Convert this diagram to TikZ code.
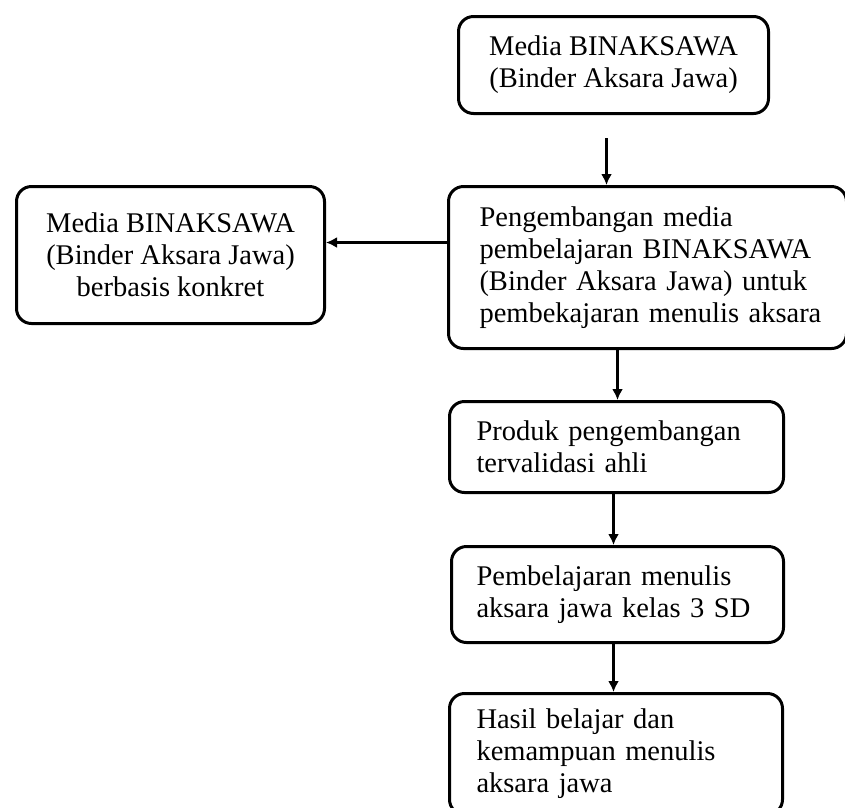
\documentclass[tikz,border=0pt]{standalone}
\usepackage{fontspec}
\setmainfont{Liberation Serif}
\usepackage{tikz}
\usetikzlibrary{arrows.meta,calc,positioning}
\tikzset{box/.style={draw, rectangle, rounded corners=15pt, line width=3pt, font=\fontsize{28.5}{32}\selectfont}}
\tikzstyle{bc}=[box, align=center, inner sep=0pt]
\tikzstyle{bl}=[box, align=left, inner ysep=0pt]

\begin{document}
\begin{tikzpicture}[x=1pt, y=-1pt, >={Latex[length=11pt,width=11pt]}, line width=2.6pt]
\useasboundingbox (0,0) rectangle (845,807);
\node[bc, minimum width=310pt, minimum height=97pt, anchor=north west] (A) at (457,15) {Media BINAKSAWA\\(Binder Aksara Jawa)};
\node[bl, inner xsep=31pt, text width=336pt, minimum height=162pt, anchor=north west] (B) at (447,185)
  {Pengembangan media\\pembelajaran BINAKSAWA\\(Binder Aksara Jawa) untuk\\\mbox{pembekajaran menulis aksara}};
\node[bc, minimum width=308pt, minimum height=137pt, anchor=north west] (C) at (15,185) {Media BINAKSAWA\\(Binder Aksara Jawa)\\berbasis konkret};
\node[bl, inner xsep=27pt, text width=280pt, minimum height=91pt][below=50pt of B.south west, anchor=north west, xshift=1pt] (D)
  {Produk pengembangan\\tervalidasi ahli};
\node[bl, inner xsep=25pt, text width=282pt, minimum height=96pt][below=51pt of D.south west, anchor=north west, xshift=2pt] (E)
  {Pembelajaran menulis\\aksara jawa kelas 3 SD};
\node[bl, inner xsep=27pt, text width=279pt, minimum height=121pt][below=48pt of E.south west, anchor=north west, xshift=-2pt] (F)
  {Hasil belajar dan\\kemampuan menulis\\aksara jawa};
\draw[->] ([shift={(-7pt,-23pt)}]A.south) -- ([xshift=-7pt]A.south |- B.north);
\draw[->] ([yshift=25pt]B.west) -- ([yshift=25pt]B.west -| C.east);
\draw[->] ([xshift=-30pt]B.south) -- ([xshift=-30pt]B.south |- D.north);
\draw[->] ([xshift=-3pt]D.south) -- ([xshift=-3pt]D.south |- E.north);
\draw[->] ([xshift=-4pt]E.south) -- ([xshift=-4pt]E.south |- F.north);
\end{tikzpicture}
\end{document}
